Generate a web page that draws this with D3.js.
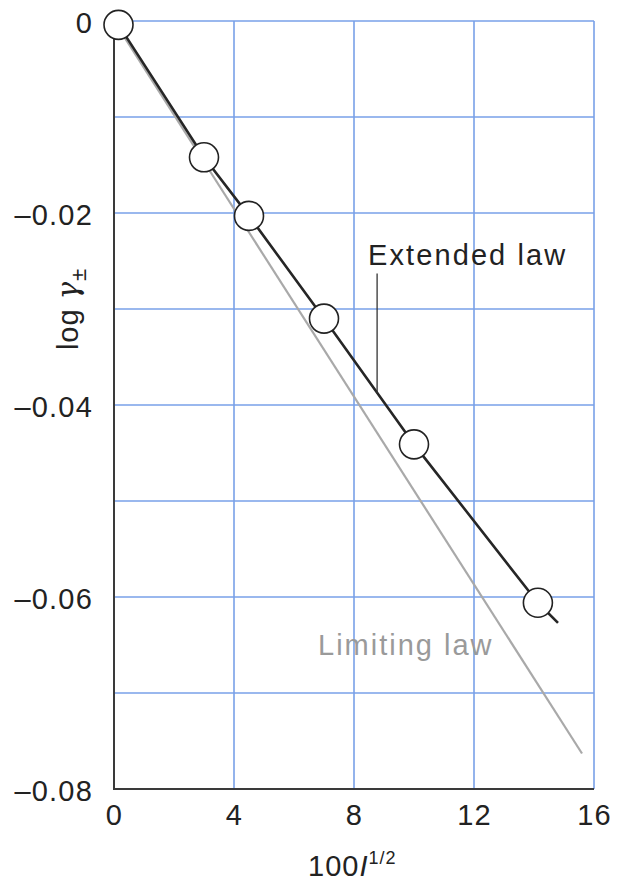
<!DOCTYPE html>
<html>
<head>
<meta charset="utf-8">
<script src="https://cdn.jsdelivr.net/npm/d3@7/dist/d3.min.js"></script>
<style>
  html, body { margin: 0; padding: 0; background: #fff; }
  svg { display: block; }
  text { font-family: "Liberation Sans", Arial, Helvetica, sans-serif; }
</style>
</head>
<body>
<svg id="chart" width="638" height="882"></svg>
<script>
// ---- data ----
const xTicks = [0, 4, 8, 12, 16];
const yTicks = [0, -0.02, -0.04, -0.06, -0.08];
const yGrid = [0, -0.01, -0.02, -0.03, -0.04, -0.05, -0.06, -0.07];
const xGrid = [4, 8, 12, 16];
const yTickLabels = ["0", "\u20130.02", "\u20130.04", "\u20130.06", "\u20130.08"];

// measured points (100 I^1/2, log gamma±)
const pointX = [0.15, 3.0, 4.5, 7.0, 10.0, 14.13];
const pointY = [-0.0004, -0.0142, -0.0203, -0.0310, -0.0441, -0.0606];

// extended law curve
const extendedX = [0.15, 3.0, 4.5, 7.0, 10.0, 14.13, 14.8];
const extendedY = [-0.0004, -0.0142, -0.0203, -0.0310, -0.0441, -0.0606, -0.0627];

// limiting law line
const limitingX = [0, 15.6];
const limitingY = [0, -0.0763];

// label leader (Extended law)
const leaderX = [8.77, 8.77];
const leaderY = [-0.0263, -0.0388];

// ---- drawing ----
const svg = d3.select("#chart");
const x = d3.scaleLinear().domain([0, 16]).range([114, 594]);
const y = d3.scaleLinear().domain([0, -0.08]).range([21, 789]);

const gridColor = "#78a0e8";
const FONT = "'Liberation Sans', Arial, sans-serif";

// grid
svg.append("g").selectAll("line.h").data(yGrid).join("line")
  .attr("x1", x(0)).attr("x2", x(16))
  .attr("y1", d => y(d)).attr("y2", d => y(d))
  .attr("stroke", gridColor).attr("stroke-width", 1.6);
svg.append("g").selectAll("line.v").data(xGrid).join("line")
  .attr("x1", d => x(d)).attr("x2", d => x(d))
  .attr("y1", y(0)).attr("y2", y(-0.08))
  .attr("stroke", gridColor).attr("stroke-width", 1.6);

// axes lines
svg.append("line").attr("x1", x(0)).attr("x2", x(0)).attr("y1", y(0)).attr("y2", y(-0.08) + 1)
  .attr("stroke", "#3a3a3a").attr("stroke-width", 2);
svg.append("line").attr("x1", x(0) - 1).attr("x2", x(16)).attr("y1", y(-0.08)).attr("y2", y(-0.08))
  .attr("stroke", "#3a3a3a").attr("stroke-width", 2);

// tick labels via d3 axes
const yAxis = svg.append("g").attr("transform", `translate(${x(0)},0)`)
  .call(d3.axisLeft(y).tickValues(yTicks).tickSize(0).tickPadding(21)
    .tickFormat((d, i) => yTickLabels[i]));
yAxis.select(".domain").remove();
yAxis.selectAll("text").attr("font-size", 29).attr("fill", "#222")
  .attr("font-family", FONT).attr("letter-spacing", 1.2).attr("dy", "0.38em");

const xAxis = svg.append("g").attr("transform", `translate(0,${y(-0.08)})`)
  .call(d3.axisBottom(x).tickValues(xTicks).tickSize(0).tickPadding(15).tickFormat(d3.format("d")));
xAxis.select(".domain").remove();
xAxis.selectAll("text").attr("font-size", 29).attr("fill", "#222")
  .attr("font-family", FONT).attr("letter-spacing", 1.2);

// limiting law
const line = d3.line().x(d => x(d[0])).y(d => y(d[1]));
svg.append("path").datum(d3.zip(limitingX, limitingY)).attr("d", line)
  .attr("fill", "none").attr("stroke", "#a9a9a9").attr("stroke-width", 2.2);

// extended law
svg.append("path").datum(d3.zip(extendedX, extendedY)).attr("d", line)
  .attr("fill", "none").attr("stroke", "#262626").attr("stroke-width", 2.6)
  .attr("stroke-linejoin", "round");

// leader
svg.append("line").attr("x1", x(leaderX[0])).attr("x2", x(leaderX[1]))
  .attr("y1", y(leaderY[0])).attr("y2", y(leaderY[1]))
  .attr("stroke", "#333").attr("stroke-width", 1.3);

// points
svg.append("g").selectAll("circle").data(d3.zip(pointX, pointY)).join("circle")
  .attr("cx", d => x(d[0])).attr("cy", d => y(d[1])).attr("r", 14.5)
  .attr("fill", "#fff").attr("stroke", "#222").attr("stroke-width", 1.6);

// labels
svg.append("text").attr("x", 368).attr("y", 265).attr("font-size", 29).attr("fill", "#222")
  .attr("letter-spacing", 2.1).text("Extended law");
svg.append("text").attr("x", 318).attr("y", 655).attr("font-size", 29).attr("fill", "#9a9a9a")
  .attr("letter-spacing", 2.0).text("Limiting law");

// x title
const xt = svg.append("text").attr("x", 308).attr("y", 876).attr("font-size", 29).attr("fill", "#222")
  .attr("letter-spacing", 1);
xt.append("tspan").text("100");
xt.append("tspan").attr("font-style", "italic").text("I");
xt.append("tspan").attr("font-size", 18).attr("dy", -12).text("1/2");

// y title
const yt = svg.append("text").attr("transform", "translate(78,309) rotate(-90)")
  .attr("text-anchor", "middle").attr("font-size", 29).attr("fill", "#222").attr("letter-spacing", 1);
yt.append("tspan").text("log ");
yt.append("tspan").attr("font-style", "italic").attr("font-family", "'DejaVu Serif', serif").text("\u03B3");
yt.append("tspan").attr("font-size", 22).attr("dy", 8).text("\u00B1");
</script>
</body>
</html>
